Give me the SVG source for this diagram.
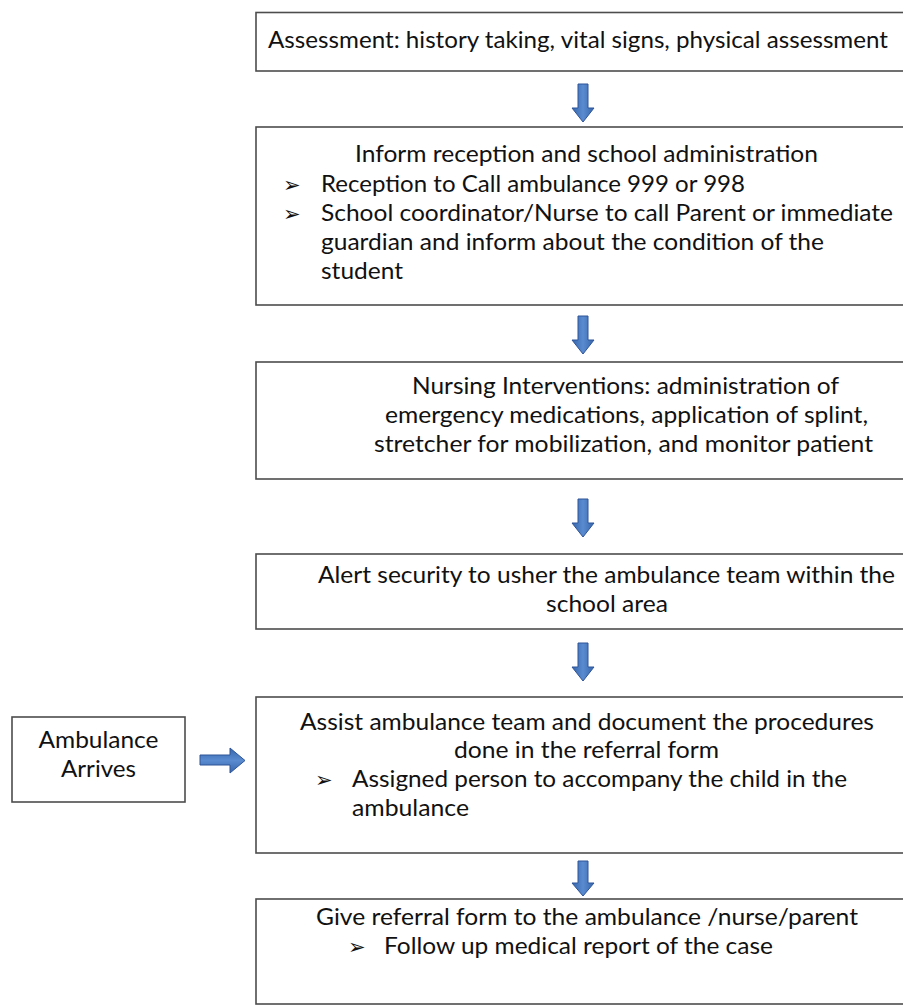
<svg xmlns="http://www.w3.org/2000/svg" width="903" height="1008" viewBox="0 0 903 1008">
<style>
.box{fill:#fff;stroke:#4d4d4d;stroke-width:1.6}
.t{font-family:Lato,"Liberation Sans",sans-serif;font-size:24px;fill:#111}
.b{font-family:"DejaVu Sans",sans-serif;font-size:21px;fill:#111}
.arr{fill:url(#g);stroke:#2f5597;stroke-width:1}
</style>
<defs>
<linearGradient id="g" x1="0" y1="0" x2="1" y2="0">
<stop offset="0" stop-color="#3566ad"/>
<stop offset="0.5" stop-color="#5a8bd0"/>
<stop offset="1" stop-color="#3566ad"/>
</linearGradient>
<linearGradient id="gh" x1="0" y1="0" x2="0" y2="1">
<stop offset="0" stop-color="#3566ad"/>
<stop offset="0.5" stop-color="#5a8bd0"/>
<stop offset="1" stop-color="#3566ad"/>
</linearGradient>
</defs>
<rect width="903" height="1008" fill="#fff"/>
<g id="connectors">
<path class="arr" d="M578,84 H588 V108 H594 L583,122 L572,108 H578 Z"/>
<path class="arr" d="M578,316 H588 V340 H594 L583,354 L572,340 H578 Z"/>
<path class="arr" d="M578,499 H588 V523 H594 L583,537 L572,523 H578 Z"/>
<path class="arr" d="M578,643 H588 V667 H594 L583,681 L572,667 H578 Z"/>
<path class="arr" d="M578,861 H588 V883 H594 L583,896 L572,883 H578 Z"/>
<path class="arr" style="fill:url(#gh)" d="M200,755 H230 V748 L245,760.5 L230,773 V765 H200 Z"/>
</g>
<g id="assessment">
<rect class="box" x="256" y="12.5" width="660" height="58.5"/>
<text class="t" x="268" y="48" textLength="620" lengthAdjust="spacingAndGlyphs">Assessment: history taking, vital signs, physical assessment</text>
</g>
<g id="inform">
<rect class="box" x="256" y="127" width="660" height="178"/>
<text class="t" x="355" y="162" textLength="463" lengthAdjust="spacingAndGlyphs">Inform reception and school administration</text>
<text class="b" x="283" y="192">➢</text>
<text class="t" x="321" y="192" textLength="424" lengthAdjust="spacingAndGlyphs">Reception to Call ambulance 999 or 998</text>
<text class="b" x="283" y="221">➢</text>
<text class="t" x="321" y="221" textLength="572" lengthAdjust="spacingAndGlyphs">School coordinator/Nurse to call Parent or immediate</text>
<text class="t" x="321" y="250" textLength="503" lengthAdjust="spacingAndGlyphs">guardian and inform about the condition of the</text>
<text class="t" x="321" y="279" textLength="82" lengthAdjust="spacingAndGlyphs">student</text>
</g>
<g id="nursing">
<rect class="box" x="256" y="362" width="660" height="117"/>
<text class="t" x="412" y="394" textLength="427" lengthAdjust="spacingAndGlyphs">Nursing Interventions: administration of</text>
<text class="t" x="385" y="423" textLength="483" lengthAdjust="spacingAndGlyphs">emergency medications, application of splint,</text>
<text class="t" x="374" y="452" textLength="499" lengthAdjust="spacingAndGlyphs">stretcher for mobilization, and monitor patient</text>
</g>
<g id="security">
<rect class="box" x="256" y="554" width="660" height="75"/>
<text class="t" x="318" y="583" textLength="577" lengthAdjust="spacingAndGlyphs">Alert security to usher the ambulance team within the</text>
<text class="t" x="546" y="612" textLength="122" lengthAdjust="spacingAndGlyphs">school area</text>
</g>
<g id="ambulance-arrives">
<rect class="box" x="12" y="717" width="173" height="85"/>
<text class="t" x="98.5" y="748" text-anchor="middle" textLength="120" lengthAdjust="spacingAndGlyphs">Ambulance</text>
<text class="t" x="98.5" y="777" text-anchor="middle" textLength="75" lengthAdjust="spacingAndGlyphs">Arrives</text>
</g>
<g id="assist">
<rect class="box" x="256" y="697" width="660" height="156"/>
<text class="t" x="300" y="730" textLength="574" lengthAdjust="spacingAndGlyphs">Assist ambulance team and document the procedures</text>
<text class="t" x="454" y="758" textLength="265" lengthAdjust="spacingAndGlyphs">done in the referral form</text>
<text class="b" x="315" y="787">➢</text>
<text class="t" x="352" y="787" textLength="495" lengthAdjust="spacingAndGlyphs">Assigned person to accompany the child in the</text>
<text class="t" x="352" y="816" textLength="117" lengthAdjust="spacingAndGlyphs">ambulance</text>
</g>
<g id="referral">
<rect class="box" x="256" y="899" width="660" height="105"/>
<text class="t" x="316" y="925" textLength="542" lengthAdjust="spacingAndGlyphs">Give referral form to the ambulance /nurse/parent</text>
<text class="b" x="348" y="954">➢</text>
<text class="t" x="384" y="954" textLength="389" lengthAdjust="spacingAndGlyphs">Follow up medical report of the case</text>
</g>
</svg>
